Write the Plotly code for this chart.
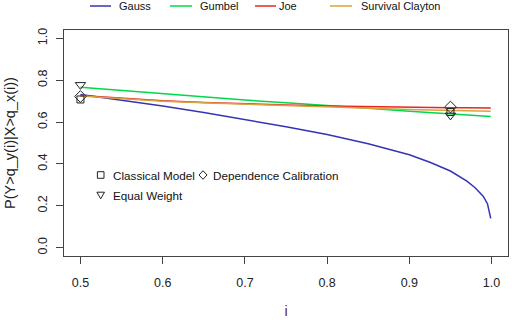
import plotly.graph_objects as go

# ---- data ----
i_vals = [0.5, 0.55, 0.6, 0.65, 0.7, 0.75, 0.8, 0.85, 0.9, 0.925, 0.95, 0.97, 0.98, 0.99, 0.995, 0.999]
gauss = [0.732, 0.705, 0.677, 0.646, 0.613, 0.578, 0.541, 0.496, 0.444, 0.408, 0.366, 0.318, 0.286, 0.245, 0.21, 0.14]
gumbel = [0.767, 0.751, 0.736, 0.720, 0.705, 0.692, 0.680, 0.666, 0.652, 0.646, 0.640, 0.635, 0.632, 0.630, 0.628, 0.627]
joe = [0.727, 0.713, 0.702, 0.694, 0.687, 0.682, 0.677, 0.673, 0.670, 0.669, 0.668, 0.668, 0.667, 0.667, 0.667, 0.667]
surv_clayton = [0.725, 0.711, 0.700, 0.692, 0.685, 0.679, 0.672, 0.665, 0.660, 0.658, 0.656, 0.654, 0.653, 0.652, 0.652, 0.652]

pt_x = [0.5, 0.95]
classical = [0.708, 0.648]
dependence = [0.722, 0.672]
equal_w = [0.778, 0.632]

series_names = ["Gauss", "Gumbel", "Joe", "Survival Clayton"]
series_colors = ["#3434b4", "#00d84a", "#e82424", "#d6a33e"]
series_vals = [gauss, gumbel, joe, surv_clayton]

x_ticks = [0.5, 0.6, 0.7, 0.8, 0.9, 1.0]
y_ticks = [0.0, 0.2, 0.4, 0.6, 0.8, 1.0]

FONT = "Liberation Sans, Arial, sans-serif"

fig = go.Figure()
for name, col, vals in zip(series_names, series_colors, series_vals):
    fig.add_trace(go.Scatter(x=i_vals, y=vals, mode="lines", name=name,
                             line=dict(color=col, width=1.5), showlegend=False))

fig.add_trace(go.Scatter(x=pt_x, y=classical, mode="markers", name="Classical Model",
                         marker=dict(symbol="square-open", size=7, color="#222",
                                     line=dict(width=1, color="#222")), showlegend=False))
fig.add_trace(go.Scatter(x=pt_x, y=dependence, mode="markers", name="Dependence Calibration",
                         marker=dict(symbol="diamond-open", size=9, color="#222",
                                     line=dict(width=1, color="#222")), showlegend=False))
fig.add_trace(go.Scatter(x=pt_x, y=equal_w, mode="markers", name="Equal Weight",
                         marker=dict(symbol="triangle-down-open", size=9, color="#222",
                                     line=dict(width=1, color="#222")), showlegend=False))

# ---- layout geometry ----
L, R, T, B = 64, 4, 30, 64
W, H = 512, 320
PW, PH = W - L - R, H - T - B


def px(xp):
    return (xp - L) / PW


def py(yp):
    return (H - B - yp) / PH


shapes = []
annotations = []

# top legend (lines)
top_items = [(90, 111, 117), (170, 192, 198), (255, 276, 277), (330, 352, 359)]
ly = py(6)
for (x0, x1, tx), name, col in zip(top_items, series_names, series_colors):
    shapes.append(dict(type="line", xref="paper", yref="paper", x0=px(x0), x1=px(x1),
                       y0=ly, y1=ly, line=dict(color=col, width=1.5)))
    annotations.append(dict(xref="paper", yref="paper", x=px(tx), y=ly, text=name,
                            showarrow=False, xanchor="left", yanchor="middle",
                            font=dict(family=FONT, size=11, color="#111")))

# inner legend (markers)
paths = {
    "square": "M-3.3,-3.3 L3.3,-3.3 L3.3,3.3 L-3.3,3.3 Z",
    "diamond": "M0,-4.3 L4,0 L0,4.3 L-4,0 Z",
    "triangle": "M-3.8,2.8 L3.8,2.8 L0,-3.8 Z",
}
inner = [("square", 100.7, 175, "Classical Model", 110.5),
         ("diamond", 203.0, 175, "Dependence Calibration", 210.5),
         ("triangle", 100.7, 195, "Equal Weight", 110.5)]
for kind, cx, cy, label, tx in inner:
    shapes.append(dict(type="path", xref="paper", yref="paper", xsizemode="pixel", ysizemode="pixel",
                       xanchor=px(cx), yanchor=py(cy), path=paths[kind],
                       line=dict(color="#222", width=1)))
    annotations.append(dict(xref="paper", yref="paper", x=px(tx), y=py(cy), text=label,
                            showarrow=False, xanchor="left", yanchor="middle",
                            font=dict(family=FONT, size=11.7, color="#111")))

fig.update_layout(
    width=W, height=H,
    margin=dict(l=L, r=R, t=T, b=B, pad=0),
    paper_bgcolor="white", plot_bgcolor="white",
    font=dict(family=FONT, size=12.5, color="#222"),
    shapes=shapes, annotations=annotations,
    showlegend=False,
)
fig.update_xaxes(range=[0.48, 1.02], tickvals=x_ticks, ticktext=[f"{v:.1f}" for v in x_ticks],
                 automargin=False, ticklabelstandoff=8,
                 showgrid=False, zeroline=False, showline=True, mirror=True,
                 linecolor="#444", linewidth=1, ticks="outside", ticklen=7, tickcolor="#444",
                 tickfont=dict(family=FONT, size=12.5, color="#222"),
                 title=dict(text="i", font=dict(family=FONT, size=14.5, color="#6b2c2c"), standoff=16))
fig.update_yaxes(range=[-0.04, 1.04], tickvals=y_ticks, ticktext=[f"{v:.1f}" for v in y_ticks],
                 automargin=False, ticklabelstandoff=4,
                 showgrid=False, zeroline=False, showline=True, mirror=True,
                 linecolor="#444", linewidth=1, ticks="outside", ticklen=7, tickcolor="#444",
                 tickangle=-90,
                 tickfont=dict(family=FONT, size=12.5, color="#222"),
                 title=dict(text="P(Y>q_y(i)|X>q_x(i))", font=dict(family=FONT, size=14.5, color="#222"),
                            standoff=16))

fig.write_html("out.html", config={"displayModeBar": False},
               post_script="document.body.style.margin='0';document.body.style.padding='0';")
